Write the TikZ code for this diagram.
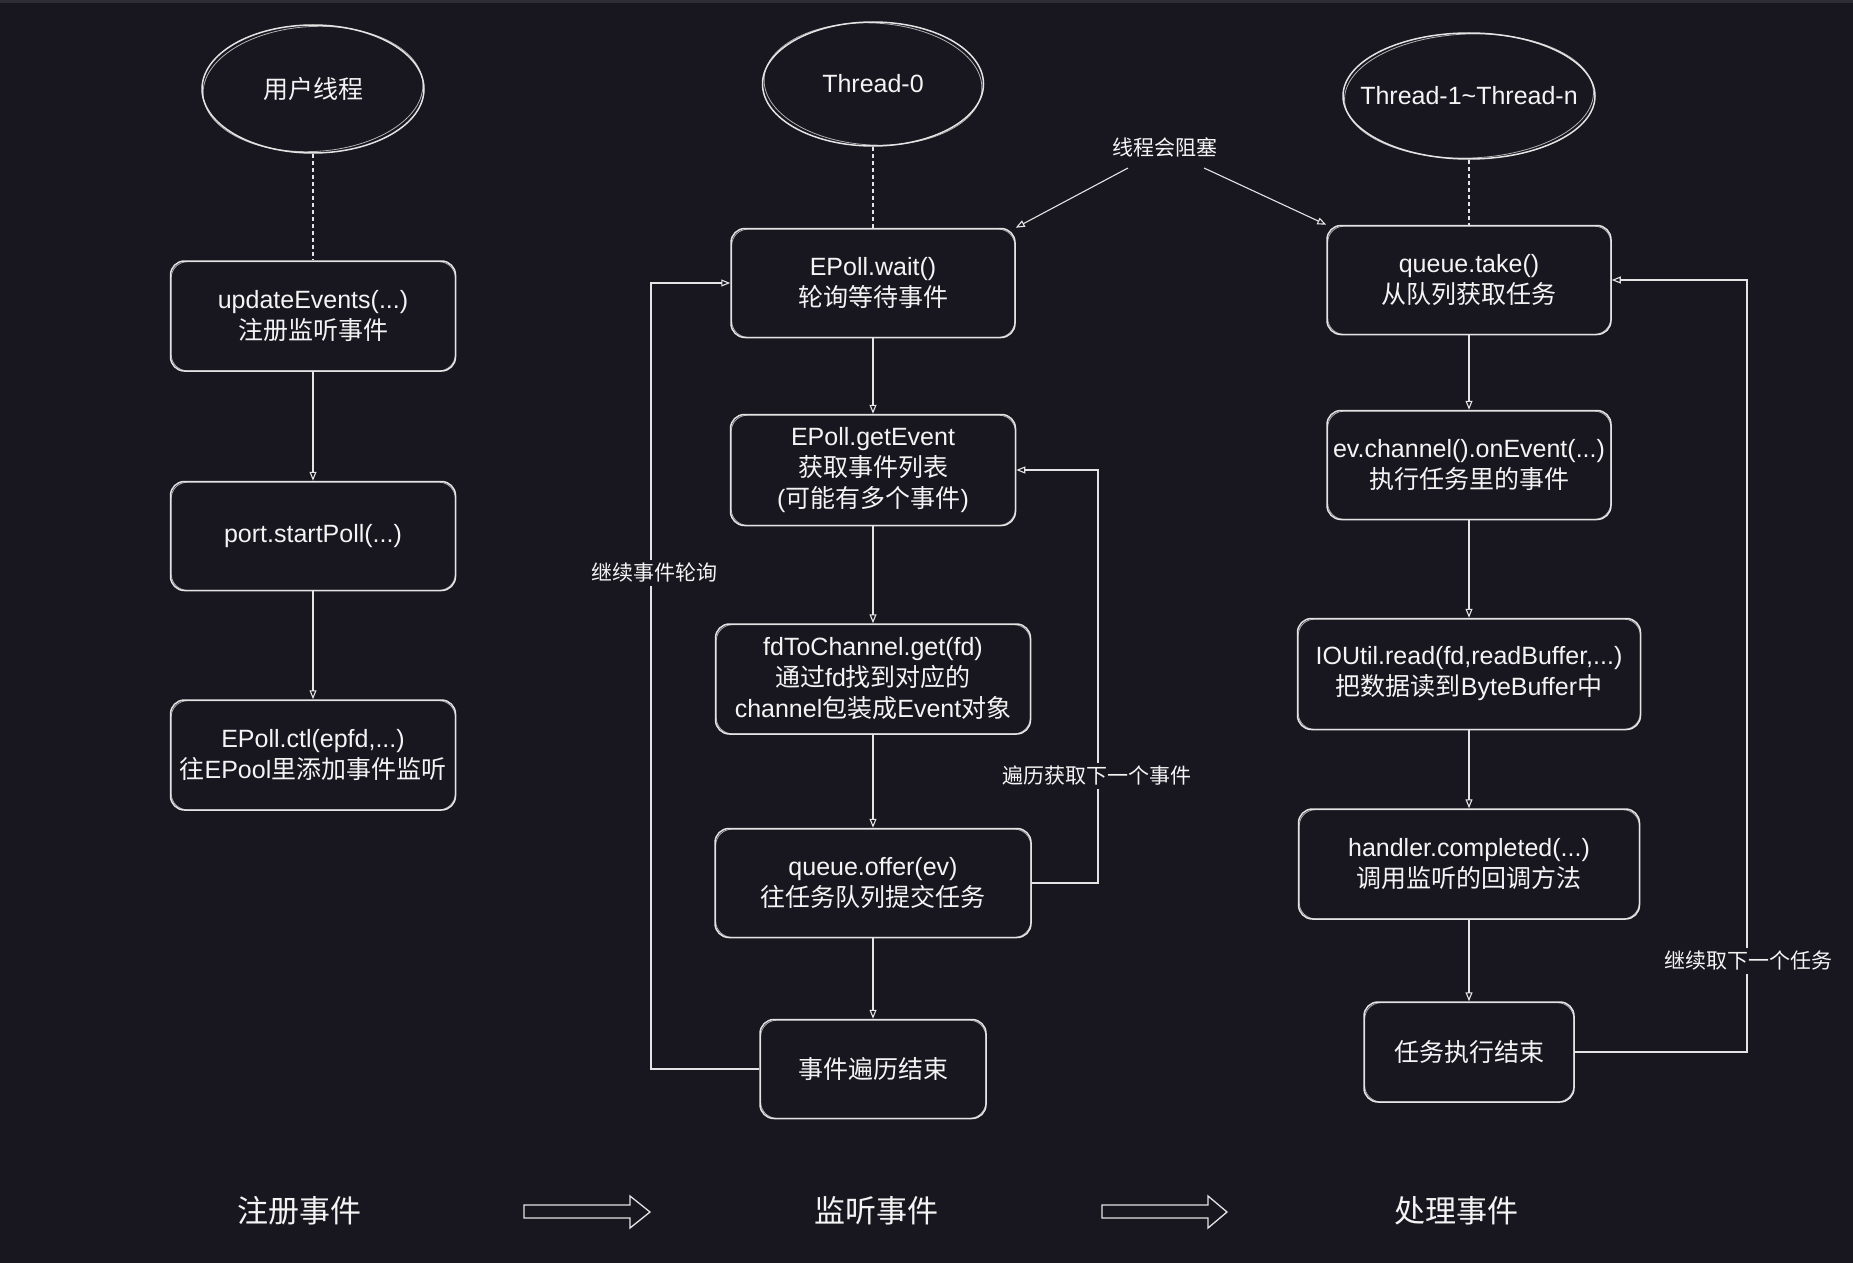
\documentclass[tikz,border=0pt]{standalone}
\usepackage{fontspec}
\setmainfont{Liberation Sans}
\newfontfamily\cjk{Noto Sans CJK SC}
\usetikzlibrary{shapes.geometric,arrows.meta,calc}
\newcommand\zhs[1]{{\cjk #1}}
\definecolor{bg}{HTML}{18161F}
\definecolor{topbar}{HTML}{2E2D33}
\definecolor{ink}{HTML}{E4E4E4}
\definecolor{txt}{HTML}{F4F4F4}
\begin{document}
\begin{tikzpicture}[x=1pt,y=-1pt,
  box/.style 2 args={draw=ink, line width=1.5pt, rounded corners=14pt,
    minimum width=#1, minimum height=#2, inner sep=0pt, align=center,
    text=txt, font={\fontsize{25pt}{31pt}\selectfont}},
  oval/.style 2 args={draw=ink, line width=1.5pt, ellipse,
    minimum width=#1, minimum height=#2, inner sep=0pt,
    text=txt, font={\fontsize{25pt}{31pt}\selectfont}},
  sketch/.style={draw=ink, line width=0.8pt, opacity=0.75, rounded corners=16pt},
  conn/.style={draw=ink, line width=1.1pt, -{Triangle[open,length=9pt,width=7pt]}},
  dashline/.style={draw=ink, line width=1.1pt, dash pattern=on 4pt off 3pt},
  lbl/.style={text=txt, font={\fontsize{21pt}{25pt}\selectfont}, inner sep=3pt},
  lblbg/.style={lbl, fill=bg},
  bigtxt/.style={text=txt, font={\fontsize{31pt}{36pt}\selectfont}, inner sep=0pt},
  fatarrow/.style={draw=ink, line width=1.3pt, line join=miter}
]
\useasboundingbox (0,0) rectangle (1853,1263);
\fill[bg] (0,0) rectangle (1853,1263);
\fill[topbar] (0,0) rectangle (1853,3);

% column 1
\node[oval={222}{128}] (u1) at (313,89) {\zhs{用户线程}};
\node[box={285}{110}] (upd) at (313,316) {updateEvents(...)\\\zhs{注册监听事件}};
\node[box={285}{109}] (port) at (313,536) {port.startPoll(...)};
\node[box={285}{110}] (ctl) at (313,755) {EPoll.ctl(epfd,...)\\\zhs{往}EPool\zhs{里添加事件监听}};

% column 2
\node[oval={221}{124}] (t0) at (873,84) {Thread-0};
\node[box={284}{109}] (wait) at (873,283) {EPoll.wait()\\\zhs{轮询等待事件}};
\node[box={285}{111}] (get) at (873,470) {EPoll.getEvent\\\zhs{获取事件列表}\\(\zhs{可能有多个事件})};
\node[box={315}{110}] (fd) at (873,679) {fdToChannel.get(fd)\\\zhs{通过}fd\zhs{找到对应的}\\channel\zhs{包装成}Event\zhs{对象}};
\node[box={316}{109}] (offer) at (873,883) {queue.offer(ev)\\\zhs{往任务队列提交任务}};
\node[box={226}{99}] (endev) at (873,1069) {\zhs{事件遍历结束}};

% column 3
\node[oval={252}{126}, inner xsep=-45pt] (tn) at (1469,96) {Thread-1\textasciitilde Thread-n};
\node[box={284}{109}] (take) at (1469,280) {queue.take()\\\zhs{从队列获取任务}};
\node[box={284}{109}] (onev) at (1469,465) {ev.channel().onEvent(...)\\\zhs{执行任务里的事件}};
\node[box={343}{111}] (read) at (1469,674) {IOUtil.read(fd,readBuffer,...)\\\zhs{把数据读到}ByteBuffer\zhs{中}};
\node[box={341}{110}] (comp) at (1469,864) {handler.completed(...)\\\zhs{调用监听的回调方法}};
\node[box={210}{100}] (endtask) at (1469,1052) {\zhs{任务执行结束}};

% hand-drawn second strokes
\foreach \n in {upd,port,ctl,wait,get,fd,offer,endev,take,onev,read,comp,endtask}{
  \draw[sketch] ($(\n.south west)+(1.5,-1)$) rectangle ($(\n.north east)+(-1,1.5)$);
}
\draw[sketch, rotate around={3:(u1.center)}] (u1.center) ellipse [x radius=110, y radius=62.5];
\draw[sketch, rotate around={-3:(t0.center)}] (t0.center) ellipse [x radius=109, y radius=61];
\draw[sketch, rotate around={2:(tn.center)}] (tn.center) ellipse [x radius=124.5, y radius=62];

% dashed thread links
\draw[dashline] (u1.south) -- (upd.north);
\draw[dashline] (t0.south) -- (wait.north);
\draw[dashline] (tn.south) -- (take.north);

% straight flow
\draw[conn] (upd) -- (port);
\draw[conn] (port) -- (ctl);
\draw[conn] (wait) -- (get);
\draw[conn] (get) -- (fd);
\draw[conn] (fd) -- (offer);
\draw[conn] (offer) -- (endev);
\draw[conn] (take) -- (onev);
\draw[conn] (onev) -- (read);
\draw[conn] (read) -- (comp);
\draw[conn] (comp) -- (endtask);

% loops
\coordinate (lpA) at (651,1069);
\coordinate (lpB) at (1098,883);
\coordinate (lpC) at (1747,1052);
\draw[conn] (endev.west) -- (lpA) |- (wait.west);
\draw[conn] (offer.east) -- (lpB) |- (get.east);
\draw[conn] (endtask.east) -- (lpC) |- (take.east);
\node[lblbg] (lA) at (654,573) {\zhs{继续事件轮询}};
\node[lblbg] (lB) at (1097,776) {\zhs{遍历获取下一个事件}};
\node[lblbg] (lC) at (1748,961) {\zhs{继续取下一个任务}};

% blocking note
\node[lbl] (blk) at (1165,147) {\zhs{线程会阻塞}};
\coordinate (bl1) at (1128,168);
\coordinate (bl2) at (1204,168);
\draw[conn] (bl1) -- (wait.north east);
\draw[conn] (bl2) -- (take.north west);

% bottom row
\node[bigtxt] (reg) at (299,1211) {\zhs{注册事件}};
\node[bigtxt] (lis) at (876,1211) {\zhs{监听事件}};
\node[bigtxt] (proc) at (1456,1211) {\zhs{处理事件}};
\draw[fatarrow] (524,1205) -- (630,1205) -- (630,1196) -- (650,1212) -- (630,1228) -- (630,1218) -- (524,1218) -- cycle;
\draw[fatarrow] (1102,1205) -- (1208,1205) -- (1208,1196) -- (1227,1212) -- (1208,1228) -- (1208,1218) -- (1102,1218) -- cycle;
\end{tikzpicture}
\end{document}
